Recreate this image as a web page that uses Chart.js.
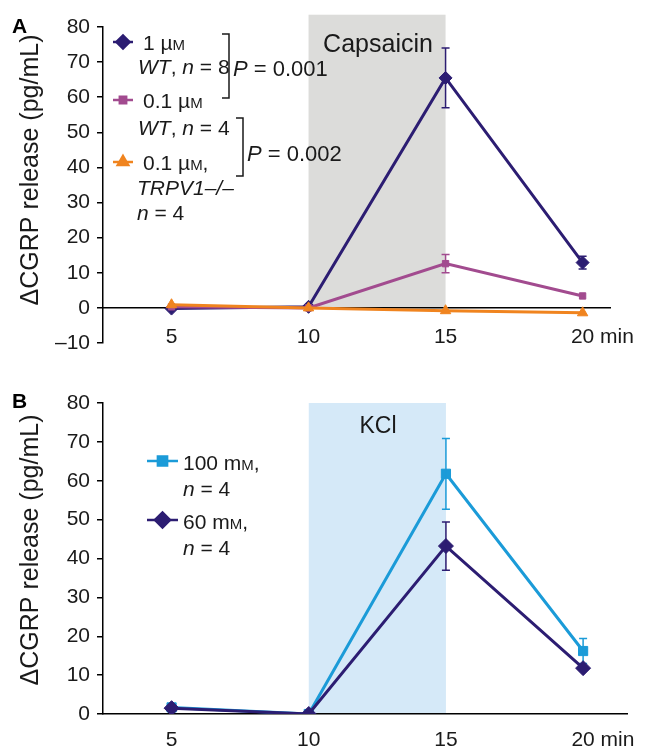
<!DOCTYPE html>
<html lang="en">
<head>
<meta charset="UTF-8">
<title>CGRP release</title>
<script src="https://cdn.jsdelivr.net/npm/chart.js"></script>
<style>
  body { margin: 0; background: #fff; }
  canvas { display: block; }
</style>
</head>
<body>
<canvas id="chartA" width="645" height="375"></canvas>
<canvas id="chartB" width="645" height="374"></canvas>
<script>
const minutes = [5, 10, 15, 20];

// A: capsaicin stimulation (pg/mL, mean and SEM)
const wt1uM = [-0.2, 0.3, 65.5, 12.9];
const wt1uMErr = [0, 0, 8.5, 1.8];
const wt01uM = [0.3, 0, 12.6, 3.4];
const wt01uMErr = [0, 0, 2.6, 0];
const ko01uM = [0.9, 0, -0.8, -1.4];
const ko01uMErr = [0, 0, 0, 0];
const ticksA = [-10, 0, 10, 20, 30, 40, 50, 60, 70, 80];

// B: KCl stimulation
const kcl100 = [1.7, 0, 61.8, 16.2];
const kcl100Err = [0, 0, 9.1, 3.2];
const kcl60 = [1.5, 0, 43.2, 11.8];
const kcl60Err = [0, 0, 6.2, 0];
const ticksB = [0, 10, 20, 30, 40, 50, 60, 70, 80];

const FONT = '"Liberation Sans", Arial, Helvetica, sans-serif';
const NAVY = '#2c1d72';
const PURPLE = '#a24b8f';
const ORANGE = '#f0841f';
const BLUE = '#1b9bd8';
const INK = '#1a1a1a';

function fontOf(size, style) {
  return (style.includes('i') ? 'italic ' : '') + (style.includes('b') ? 'bold ' : '') + size + 'px ' + FONT;
}

// text made of runs: '' plain, 'i' italic, 's' small capital
function drawRuns(ctx, x, y, runs, size) {
  ctx.textAlign = 'left';
  ctx.textBaseline = 'alphabetic';
  ctx.fillStyle = INK;
  const base = y + size * 0.36;
  runs.forEach(([t, st = '']) => {
    const s = st.includes('s') ? Math.round(size * 0.72) : size;
    ctx.font = fontOf(s, st);
    ctx.fillText(t, x, base);
    x += ctx.measureText(t).width;
  });
}

function points(ys) {
  return minutes.map((m, i) => ({ x: m, y: ys[i] }));
}

function series(label, ys, errs, color, style, radius) {
  return {
    label, data: points(ys), errors: errs,
    borderColor: color, backgroundColor: color,
    pointBackgroundColor: color, pointBorderColor: color,
    pointStyle: style, pointRadius: radius, pointHoverRadius: radius,
    pointBorderWidth: 1, borderWidth: 3, tension: 0
  };
}

const decor = {
  id: 'decor',
  beforeDraw(chart, args, opts) {
    const { ctx } = chart;
    const xs = chart.scales.x, ys = chart.scales.y;
    const b = opts.band;
    ctx.save();
    ctx.fillStyle = b.color;
    const x1 = xs.getPixelForValue(b.x[0]), x2 = xs.getPixelForValue(b.x[1]);
    const y1 = ys.getPixelForValue(b.y[1]), y2 = ys.getPixelForValue(b.y[0]);
    ctx.fillRect(x1, y1, x2 - x1, y2 - y1);
    ctx.font = fontOf(b.size, '');
    ctx.fillStyle = INK;
    ctx.textAlign = 'center';
    ctx.textBaseline = 'middle';
    ctx.fillText(b.text, b.tx, b.ty);
    ctx.restore();
  },
  afterDatasetDraw(chart, args) {
    const ds = chart.data.datasets[args.index];
    const meta = args.meta;
    const ys = chart.scales.y;
    const { ctx } = chart;
    ctx.save();
    ctx.strokeStyle = ds.borderColor;
    ctx.lineWidth = 1.5;
    ds.errors.forEach((e, i) => {
      if (!e) return;
      const x = meta.data[i].x;
      const v = ds.data[i].y;
      const top = ys.getPixelForValue(v + e), bot = ys.getPixelForValue(v - e);
      ctx.beginPath();
      ctx.moveTo(x, top); ctx.lineTo(x, bot);
      ctx.moveTo(x - 4, top); ctx.lineTo(x + 4, top);
      ctx.moveTo(x - 4, bot); ctx.lineTo(x + 4, bot);
      ctx.stroke();
    });
    ctx.restore();
  },
  afterDraw(chart, args, opts) {
    const { ctx } = chart;
    ctx.save();
    // panel letter
    ctx.font = fontOf(21, 'b');
    ctx.fillStyle = '#000';
    ctx.textAlign = 'left';
    ctx.textBaseline = 'middle';
    ctx.fillText(opts.letter, 12, 27);
    // axis title
    ctx.save();
    ctx.translate(opts.title.x, opts.title.y);
    ctx.rotate(-Math.PI / 2);
    ctx.font = fontOf(25, '');
    ctx.fillStyle = INK;
    ctx.textAlign = 'center';
    ctx.fillText(opts.title.text, 0, 0);
    ctx.restore();
    // " min" after the last x tick
    const xs = chart.scales.x;
    const items = xs.getLabelItems();
    const last = items[items.length - 1];
    if (last) {
      const [tx, ty] = last.options.translation;
      ctx.font = fontOf(21, '');
      const w = ctx.measureText(String(last.label)).width;
      ctx.textAlign = 'left';
      ctx.textBaseline = last.options.textBaseline;
      ctx.fillStyle = INK;
      ctx.fillText(' min', tx + w / 2, ty + (last.textOffset || 0));
    }
    // legend
    opts.legend.markers.forEach(m => {
      ctx.strokeStyle = m.color;
      ctx.lineWidth = 2.5;
      ctx.beginPath();
      ctx.moveTo(m.x1, m.y); ctx.lineTo(m.x2, m.y);
      ctx.stroke();
      ctx.fillStyle = m.color;
      Chart.helpers.drawPoint(ctx, { pointStyle: m.style, radius: m.r, rotation: 0, borderWidth: 1 }, (m.x1 + m.x2) / 2, m.y);
      ctx.fill();
    });
    opts.legend.texts.forEach(t => drawRuns(ctx, t.x, t.y, t.runs, t.size || 21));
    ctx.strokeStyle = INK;
    ctx.lineWidth = 1.5;
    (opts.legend.brackets || []).forEach(b => {
      ctx.beginPath();
      ctx.moveTo(b.x - 7, b.y1); ctx.lineTo(b.x, b.y1);
      ctx.lineTo(b.x, b.y2); ctx.lineTo(b.x - 7, b.y2);
      ctx.stroke();
    });
    ctx.restore();
  }
};

function yAxis(min, max, ticks) {
  return {
    type: 'linear', min, max,
    afterBuildTicks: s => { s.ticks = ticks.map(v => ({ value: v })); },
    afterFit: s => { s.width = 103; },
    ticks: {
      color: INK, padding: 7,
      font: { family: FONT, size: 21 },
      callback: v => v < 0 ? '\u2013' + Math.abs(v) : String(v)
    },
    grid: { drawOnChartArea: false, drawTicks: true, tickLength: 6, color: '#000', lineWidth: 1.5 },
    border: { display: true, color: '#000', width: 1.5 }
  };
}

function xAxis(max, position, pad, extra) {
  return Object.assign({
    type: 'linear', min: 2.5, max, position,
    afterBuildTicks: s => { s.ticks = minutes.map(v => ({ value: v })); },
    ticks: { color: INK, padding: pad, font: { family: FONT, size: 21 } },
    grid: { display: false, drawTicks: false },
    border: { display: true, color: '#000', width: 1.5 }
  }, extra);
}

const common = {
  responsive: false,
  animation: false,
  plugins: { legend: { display: false }, tooltip: { enabled: false } }
};

new Chart(document.getElementById('chartA'), {
  type: 'line',
  data: {
    datasets: [
      series('0.1 µM TRPV1−/−', ko01uM, ko01uMErr, ORANGE, 'triangle', 6),
      series('0.1 µM WT', wt01uM, wt01uMErr, PURPLE, 'rect', 4.5),
      series('1 µM WT', wt1uM, wt1uMErr, NAVY, 'rectRot', 6.5)
    ]
  },
  options: Object.assign({}, common, {
    layout: { padding: { top: 27, right: 35, bottom: 32, left: 0 } },
    scales: {
      x: xAxis(21, { y: 0 }, 17),
      y: yAxis(-10, 80, ticksA)
    },
    plugins: Object.assign({}, common.plugins, {
      decor: {
        letter: 'A',
        title: { text: '\u0394CGRP release (pg/mL)', x: 31, y: 170 },
        band: { x: [10, 15], y: [0, 83.5], color: '#dcdcda', text: 'Capsaicin', size: 25, tx: 378, ty: 45 },
        legend: {
          markers: [
            { x1: 113, x2: 133, y: 42, color: NAVY, style: 'rectRot', r: 6.5 },
            { x1: 113, x2: 133, y: 100, color: PURPLE, style: 'rect', r: 4.5 },
            { x1: 113, x2: 133, y: 162, color: ORANGE, style: 'triangle', r: 6 }
          ],
          texts: [
            { x: 143, y: 42, runs: [['1 µ'], ['M', 's']] },
            { x: 138, y: 66, runs: [['WT', 'i'], [', '], ['n', 'i'], [' = 8']] },
            { x: 233, y: 68, runs: [['P', 'i'], [' = 0.001']], size: 22 },
            { x: 143, y: 100, runs: [['0.1 µ'], ['M', 's']] },
            { x: 138, y: 127, runs: [['WT', 'i'], [', '], ['n', 'i'], [' = 4']] },
            { x: 247, y: 153, runs: [['P', 'i'], [' = 0.002']], size: 22 },
            { x: 143, y: 162, runs: [['0.1 µ'], ['M', 's'], [',']] },
            { x: 137, y: 187, runs: [['TRPV1\u2013/\u2013', 'i']] },
            { x: 137, y: 212, runs: [['n', 'i'], [' = 4']] }
          ],
          brackets: [
            { x: 229, y1: 34, y2: 98 },
            { x: 243, y1: 118, y2: 176 }
          ]
        }
      }
    })
  }),
  plugins: [decor]
});

new Chart(document.getElementById('chartB'), {
  type: 'line',
  data: {
    datasets: [
      series('60 mM', kcl60, kcl60Err, NAVY, 'rectRot', 7.5),
      series('100 mM', kcl100, kcl100Err, BLUE, 'rect', 6.5)
    ]
  },
  options: Object.assign({}, common, {
    layout: { padding: { top: 28, right: 18, bottom: 0, left: 0 } },
    scales: {
      x: xAxis(21.6, 'bottom', 14, { afterFit: s => { s.height = 35; } }),
      y: yAxis(0, 80, ticksB)
    },
    plugins: Object.assign({}, common.plugins, {
      decor: {
        letter: 'B',
        title: { text: '\u0394CGRP release (pg/mL)', x: 31, y: 175 },
        band: { x: [10, 15], y: [0, 80], color: '#d5e9f8', text: 'KCl', size: 23, tx: 378, ty: 52 },
        legend: {
          markers: [
            { x1: 147, x2: 178, y: 86, color: BLUE, style: 'rect', r: 6.5 },
            { x1: 147, x2: 178, y: 145, color: NAVY, style: 'rectRot', r: 7.5 }
          ],
          texts: [
            { x: 183, y: 87, runs: [['100 m'], ['M', 's'], [',']] },
            { x: 183, y: 113, runs: [['n', 'i'], [' = 4']] },
            { x: 183, y: 146, runs: [['60 m'], ['M', 's'], [',']] },
            { x: 183, y: 172, runs: [['n', 'i'], [' = 4']] }
          ]
        }
      }
    })
  }),
  plugins: [decor]
});
</script>
</body>
</html>
